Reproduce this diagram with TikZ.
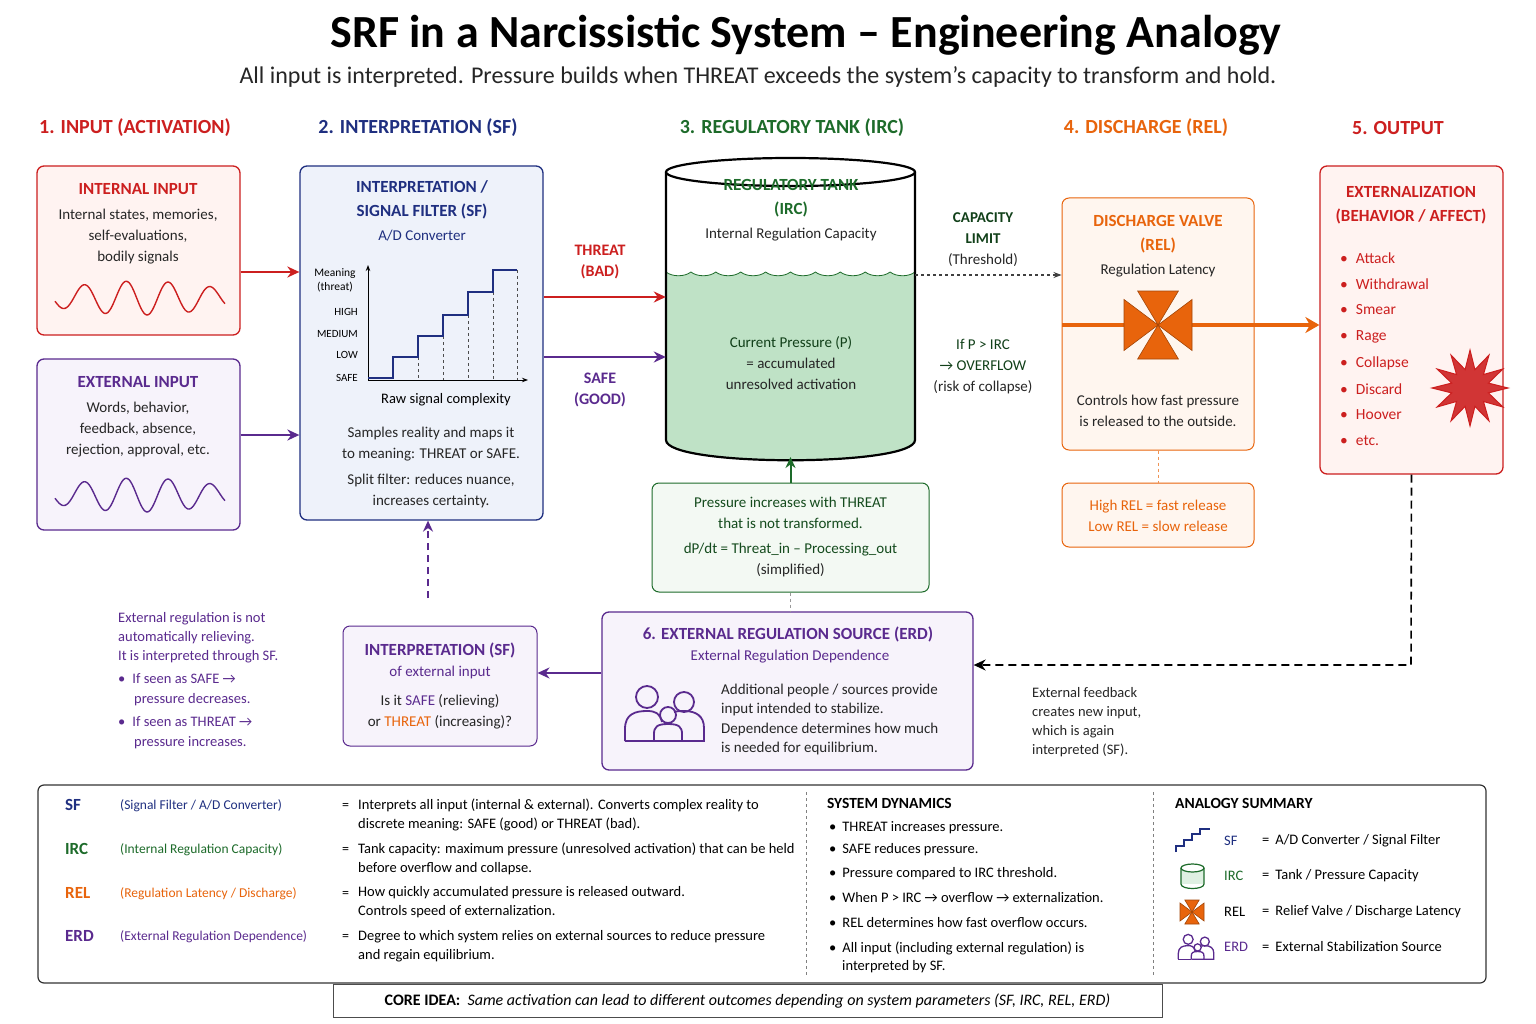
\documentclass[tikz,border=0pt]{standalone}
\usepackage{fontspec}
\setmainfont{Carlito}
\usetikzlibrary{arrows.meta,calc}
\definecolor{cred}{HTML}{CC1F1F}
\definecolor{cnavy}{HTML}{1F2F80}
\definecolor{cgreen}{HTML}{1D6B2A}
\definecolor{corange}{HTML}{E8640C}
\definecolor{cpurple}{HTML}{5A2A8E}
\definecolor{fred}{HTML}{FFF3F1}
\definecolor{fblue}{HTML}{EEF2FA}
\definecolor{fpurple}{HTML}{F7F3FB}
\definecolor{fgreen}{HTML}{F3F9F3}
\definecolor{water}{HTML}{BFE2C6}
\definecolor{forange}{HTML}{FFF6EF}
\newcommand\fsz[2]{\fontsize{#1}{#2}\selectfont}
\tikzset{
 box/.style={draw=#1,line width=1.3pt,rounded corners=7pt,inner sep=0pt},
 txt/.style={font=\fsz{15}{21},align=center,text=black!85,inner sep=0pt},
 ttl/.style={font=\fsz{17}{24}\bfseries,align=center,text=#1,inner sep=0pt},
 hdr/.style={font=\fsz{20}{24}\bfseries,text=#1,inner sep=0pt},
 lt/.style={font=\fsz{14.5}{18.5},align=left,anchor=west,inner sep=0pt},
 arr/.style={line width=2.4pt,draw=#1,-{Stealth[length=12pt,width=11pt]}},
 pics/people/.style={code={
   \draw[cpurple,line width=#1] (-13,-17) circle[radius=11];
   \draw[cpurple,line width=#1] (24,-12) circle[radius=10];
   \draw[cpurple,line width=#1] (8,1) circle[radius=8];
   \draw[cpurple,line width=#1] (-35,27) -- (-35,15) .. controls (-35,0) and (-25,-3) .. (-13,-3) .. controls (-5,-3) and (0,-1) .. (2,8);
   \draw[cpurple,line width=#1] (-35,27) -- (-6,27);
   \draw[cpurple,line width=#1] (-6,27) -- (-6,20) .. controls (-6,13) and (-3,10) .. (8,10) .. controls (19,10) and (22,13) .. (22,20) -- (22,27) -- (-6,27);
   \draw[cpurple,line width=#1] (14,-2) .. controls (18,-3) and (20,-3) .. (24,-3) .. controls (36,-3) and (44,2) .. (44,14) -- (44,27) -- (22,27);
 }},
 pics/valve/.style={code={
   \fill[corange,draw=corange!70!black,line width=0.6pt] (0,0)--(-#1,-0.75*#1)--(-#1,0.75*#1)--cycle;
   \fill[corange,draw=corange!70!black,line width=0.6pt] (0,0)--(#1,-0.75*#1)--(#1,0.75*#1)--cycle;
   \fill[corange,draw=corange!70!black,line width=0.6pt] (0,0)--(-0.6*#1,-#1)--(0.6*#1,-#1)--cycle;
   \fill[corange,draw=corange!70!black,line width=0.6pt] (0,0)--(-0.6*#1,#1)--(0.6*#1,#1)--cycle;
 }},
}
\begin{document}
\begin{tikzpicture}[x=1pt,y=-1pt]
\useasboundingbox (0,0) rectangle (1536,1024);
\fill[white] (0,0) rectangle (1536,1024);
% title
\node[font=\fsz{46}{50}\bfseries,inner sep=0] (title) at (806,35) {SRF in a Narcissistic System -- Engineering Analogy};
\node[font=\fsz{24}{28},inner sep=0,text=black!85] (sub) at (758,77) {All input is interpreted. Pressure builds when THREAT exceeds the system’s capacity to transform and hold.};
% headers
\node[hdr=cred] (h1) at (135,128) {1. INPUT (ACTIVATION)};
\node[hdr=cnavy] (h2) at (418,128) {2. INTERPRETATION (SF)};
\node[hdr=cgreen] (h3) at (792,128) {3. REGULATORY TANK (IRC)};
\node[hdr=corange] (h4) at (1146,128) {4. DISCHARGE (REL)};
\node[hdr=cred] (h5) at (1398,128) {5. OUTPUT};
% internal input
\node[box=cred,fill=fred,minimum width=203,minimum height=169] (inbox) at (138.5,250.5) {};
\node[ttl=cred] (int) at (138,189) {INTERNAL INPUT};
\node[txt] (intt) at (138,237) {Internal states, memories,\\self-evaluations,\\bodily signals};
\draw[cred,line width=1.4pt] plot[domain=0:170,samples=120] ({55+\x},{298-17*sin(\x*8.5714+200)*(0.55+0.45*sin(\x*1.0588))});
% external input
\node[box=cpurple,fill=fpurple,minimum width=203,minimum height=171] (exbox) at (138.5,444.5) {};
\node[ttl=cpurple] (ext) at (138,382) {EXTERNAL INPUT};
\node[txt] (extt) at (138,430) {Words, behavior,\\feedback, absence,\\rejection, approval, etc.};
\draw[cpurple,line width=1.4pt] plot[domain=0:170,samples=120] ({55+\x},{495-17*sin(\x*8.5714+200)*(0.55+0.45*sin(\x*1.0588))});
% SF box
\node[box=cnavy,fill=fblue,minimum width=243,minimum height=354] (sfbox) at (421.5,343) {};
\draw[arr=cred] (inbox.east|-0,272) -- (sfbox.west|-0,272);
\draw[arr=cpurple] (exbox.east|-0,435) -- (sfbox.west|-0,435);
\node[ttl=cnavy] (sft) at (422,200) {INTERPRETATION /\\SIGNAL FILTER (SF)};
\node[font=\fsz{15}{18},text=cnavy,inner sep=0] (ad) at (422,236) {A/D Converter};
\coordinate (orig) at (368,380);
\draw[line width=1pt,-{Stealth[length=6pt]}] (orig) -- (368,265);
\draw[line width=1pt,-{Stealth[length=6pt]}] (orig) -- (528,380);
\node[font=\fsz{11.5}{14},align=center,inner sep=0] (mean) at (335,280) {Meaning\\(threat)};
\foreach \l/\y in {HIGH/312,MEDIUM/334,LOW/355,SAFE/378}
  \node[font=\fsz{11}{13},anchor=east,inner sep=0] at (358,\y) {\l};
\foreach \x/\y in {418/357,443/336,468/315,493/292,517/270}
  \draw[dashed,line width=0.7pt,black!70] (\x,\y) -- (\x,380);
\draw[cnavy,line width=2.4pt] (368,378)--(393,378)--(393,357)--(418,357)--(418,336)--(443,336)--(443,315)--(468,315)--(468,292)--(493,292)--(493,270)--(517,270);
\node[font=\fsz{14.5}{18},inner sep=0] (raw) at (446,400) {Raw signal complexity};
\node[txt] (sft2) at (431,444.5) {Samples reality and maps it\\to meaning: THREAT or SAFE.};
\node[txt] (sft3) at (431,490.5) {Split filter: reduces nuance,\\increases certainty.};
% tank
\fill[water] (666,272) \foreach \i in {0,...,9}{ .. controls ++(6.2,5) and ++(-6.2,5) .. ++(24.9,0)} -- (915,440) .. controls (915,467) and (666,467) .. (666,440) -- cycle;
\draw[cgreen,line width=0.8pt] (666,272) \foreach \i in {0,...,9}{ .. controls ++(6.2,5) and ++(-6.2,5) .. ++(24.9,0)};
\draw[black,line width=2.2pt] (666,172) -- (666,440) .. controls (666,467) and (915,467) .. (915,440) -- (915,172);
\draw[black,line width=2.2pt,fill=white] (790.5,172) ellipse [x radius=124.5,y radius=14];
\node[inner sep=0,minimum width=249,minimum height=290] (tank) at (790.5,313) {};
\node[ttl=cgreen] (tankt) at (791,198) {REGULATORY TANK\\(IRC)};
\node[txt] (irc) at (791,235) {Internal Regulation Capacity};
\node[txt] (cp) at (791,363) {\textcolor{cgreen!60!black}{Current Pressure (P)}\\= accumulated\\unresolved activation};
\draw[arr=cred] (sfbox.east|-0,297) -- (tank.west|-0,297);
\draw[arr=cpurple] (sfbox.east|-0,357) -- (tank.west|-0,357);
\node[ttl=cred,font=\fsz{16}{21}\bfseries] (thr) at (600,262) {THREAT\\(BAD)};
\node[ttl=cpurple,font=\fsz{16}{21}\bfseries] (safe) at (600,390) {SAFE\\(GOOD)};
% capacity
\node[txt] (cap) at (983,240) {\textbf{\textcolor{cgreen!60!black}{CAPACITY}}\\\textbf{\textcolor{cgreen!60!black}{LIMIT}}\\(Threshold)};
\node[txt] (ovf) at (983,367) {\textcolor{cgreen!60!black}{If P > IRC}\\\textcolor{cgreen!60!black}{→ OVERFLOW}\\(risk of collapse)};
% pressure box
\node[box=cgreen,fill=fgreen,line width=1pt,minimum width=277,minimum height=109] (pbox) at (790.5,537.5) {};
\node[txt] (pt) at (790.5,537) {\textcolor{cgreen!70!black}{Pressure increases with THREAT}\\\textcolor{cgreen!70!black}{that is not transformed.}\\[4pt]\textcolor{cgreen!70!black}{dP/dt = Threat\_in -- Processing\_out}\\(simplified)};
\draw[cgreen,line width=2pt,-{Stealth[length=11pt,width=10pt]}] (pbox.north) -- (790.5,457);
% discharge
\node[box=corange,fill=forange,line width=1pt,minimum width=192,minimum height=252] (dbox) at (1158,324) {};
\node[ttl=corange] (dt) at (1158,234) {DISCHARGE VALVE\\(REL)};
\node[txt] (rl) at (1158,271) {Regulation Latency};
\node[txt] (dt2) at (1158,410.5) {Controls how fast pressure\\is released to the outside.};
\draw[dashed,line width=1.1pt,black!75,-{Stealth[length=8pt]}] (915,275) -- (dbox.west|-0,275);
% output box
\node[box=cred,fill=fred,minimum width=183,minimum height=308] (obox) at (1411.5,320) {};
\draw[corange,line width=4pt] (1062,325) -- (1300,325);
\draw[corange,line width=4pt,-{Stealth[length=14pt,width=16pt]}] (1290,325) -- (obox.west|-0,325);
\pic at (1158,325) {valve=34};
\node[box=corange,fill=forange,line width=1pt,minimum width=192,minimum height=64] (rbox) at (1158,515) {};
\node[txt,text=corange] (rt) at (1158,516) {High REL = fast release\\Low REL = slow release};
\draw[dashed,corange!70,line width=0.8pt] (dbox.south) -- (rbox.north);
\node[ttl=cred] (ot) at (1411,205) {EXTERNALIZATION\\(BEHAVIOR / AFFECT)};
\foreach \t/\y in {Attack/258,Withdrawal/284,Smear/310,Rage/337,Collapse/363,Discard/389,Hoover/415,etc./441}
  \node[lt,text=cred,font=\fsz{15.5}{18}] at (1340,\y) {\textbullet\hspace{8pt}\t};
\fill[cred!90,draw=cred,line width=1pt] (1470,350) \foreach \i in {1,...,23}{ -- ({1470+(mod(\i,2)==0 ? 38 : 19)*sin(\i*15)},{388-(mod(\i,2)==0 ? 38 : 19)*cos(\i*15)})} -- cycle;
% ERD
\node[box=cpurple,fill=fpurple,minimum width=371,minimum height=158] (erd) at (787.5,691) {};
\node[ttl=cpurple] (erdt) at (788,634) {6. EXTERNAL REGULATION SOURCE (ERD)};
\node[font=\fsz{15}{18},text=cpurple,inner sep=0] (erds) at (790,657) {External Regulation Dependence};
\pic at (660,714) {people=1.8pt};
\node[lt,font=\fsz{15}{19.5},text=black!85] (erdtx) at (721,719.5) {Additional people / sources provide\\input intended to stabilize.\\Dependence determines how much\\is needed for equilibrium.};
\draw[dashed,black!40,line width=0.6pt] (pbox.south) -- (erd.north-|pbox.south);
% output feedback
\coordinate (fb) at (1411,665);
\draw[dashed,line width=1.6pt,dash pattern=on 8pt off 5pt,-{Stealth[length=12pt,width=11pt]}] (obox.south) -- (fb) -- (erd.east|-fb);
\node[lt,font=\fsz{14.5}{19},text=black!85] (fbt) at (1032,722.5) {External feedback\\creates new input,\\which is again\\interpreted (SF).};
% SF external
\node[box=cpurple,fill=fpurple,line width=1pt,minimum width=194,minimum height=120] (sfe) at (440,686) {};
\node[ttl=cpurple] (sfet) at (440,650) {INTERPRETATION (SF)};
\node[font=\fsz{15}{18},text=cpurple,inner sep=0] (sfes) at (440,672) {of external input};
\node[txt] (sfetx) at (440,712) {Is it \textcolor{cpurple}{SAFE} (relieving)\\or \textcolor{corange}{THREAT} (increasing)?};
\draw[arr=cpurple,line width=2pt] (erd.west|-0,673) -- (sfe.east|-0,673);
\draw[cpurple,line width=1.5pt,dashed,dash pattern=on 7pt off 5pt,-{Stealth[length=11pt,width=10pt]}] (428,598) -- (sfbox.south-|428,0);
\node[lt,font=\fsz{14.5}{19},text=cpurple] (note) at (118,638) {External regulation is not\\automatically relieving.\\It is interpreted through SF.};
\node[lt,font=\fsz{14.5}{20},text=cpurple] (n1) at (118,690) {\textbullet\hspace{7pt}If seen as SAFE →\\\hspace{16pt}pressure decreases.};
\node[lt,font=\fsz{14.5}{20},text=cpurple] (n2) at (118,733) {\textbullet\hspace{7pt}If seen as THREAT →\\\hspace{16pt}pressure increases.};
% legend
\node[draw=black!80,line width=1.2pt,rounded corners=6pt,minimum width=1448,minimum height=198,inner sep=0] (leg) at (762,884) {};
\draw[dashed,black!50] (806,792) -- (806,976);
\draw[dashed,black!50] (1153,792) -- (1153,976);
\foreach \a/\p/\c/\y in {SF/{(Signal Filter / A/D Converter)}/cnavy/805,IRC/{(Internal Regulation Capacity)}/cgreen/849,REL/{(Regulation Latency / Discharge)}/corange/893,ERD/{(External Regulation Dependence)}/cpurple/936}{
  \node[lt,font=\fsz{17}{20}\bfseries,text=\c] at (65,\y) {\a};
  \node[lt,font=\fsz{13.5}{16},text=\c] at (120,\y+1) {\p};
  \node[lt,font=\fsz{14}{16}] at (342,\y+1) {=};}
\node[lt,font=\fsz{14.5}{18.5}] (l1) at (358,815) {Interprets all input (internal \& external). Converts complex reality to\\discrete meaning: SAFE (good) or THREAT (bad).};
\node[lt,font=\fsz{14.5}{18.5}] (l2) at (358,859) {Tank capacity: maximum pressure (unresolved activation) that can be held\\before overflow and collapse.};
\node[lt,font=\fsz{14.5}{18.5}] (l3) at (358,902) {How quickly accumulated pressure is released outward.\\Controls speed of externalization.};
\node[lt,font=\fsz{14.5}{18.5}] (l4) at (358,946) {Degree to which system relies on external sources to reduce pressure\\and regain equilibrium.};
\node[lt,font=\fsz{15.5}{18}\bfseries] (sd) at (827,803) {SYSTEM DYNAMICS};
\foreach \t/\y in {THREAT increases pressure./828,SAFE reduces pressure./850,Pressure compared to IRC threshold./874,When P > IRC → overflow → externalization./898,REL determines how fast overflow occurs./923}
  \node[lt,font=\fsz{14.5}{18}] at (829,\y) {\textbullet\hspace{6pt}\t};
\node[lt,font=\fsz{14.5}{18}] (sdl) at (829,957) {\textbullet\hspace{6pt}All input (including external regulation) is\\\hspace{13pt}interpreted by SF.};
\node[lt,font=\fsz{15.5}{18}\bfseries] (as) at (1175,803) {ANALOGY SUMMARY};
\draw[cnavy,line width=1.5pt] (1176,852)--(1176,846)--(1184,846)--(1184,840)--(1192,840)--(1192,834)--(1200,834)--(1200,829)--(1210,829);
\fill[water!50] (1181,868) rectangle (1204,884);
\draw[cgreen,line width=1.2pt] (1181,868) -- (1181,884) .. controls (1181,890) and (1204,890) .. (1204,884) -- (1204,868);
\draw[cgreen,line width=1.2pt,fill=white] (1192.5,868) ellipse[x radius=11.5,y radius=4];
\pic at (1192,912) {valve=12};
\pic[scale=0.45] at (1194,947) {people=1.3pt};
\foreach \a/\c/\t/\y in {SF/cnavy/{A/D Converter / Signal Filter}/841,IRC/cgreen/{Tank / Pressure Capacity}/876,REL/black/{Relief Valve / Discharge Latency}/912,ERD/cpurple/{External Stabilization Source}/947}{
  \node[lt,font=\fsz{14.5}{17},text=\c] at (1224,\y) {\a};
  \node[lt,font=\fsz{14.5}{17}] at (1262,\y) {=\hspace{6pt}\t};}
\node[draw=black!70,fill=white,line width=1pt,minimum width=829,minimum height=33,inner sep=0] (core) at (747.5,1001) {};
\node[font=\fsz{16}{19},inner sep=0] (coret) at (747.5,1001) {\textbf{CORE IDEA:}\ \ \textit{Same activation can lead to different outcomes depending on system parameters (SF, IRC, REL, ERD)}};
\end{tikzpicture}
\end{document}
